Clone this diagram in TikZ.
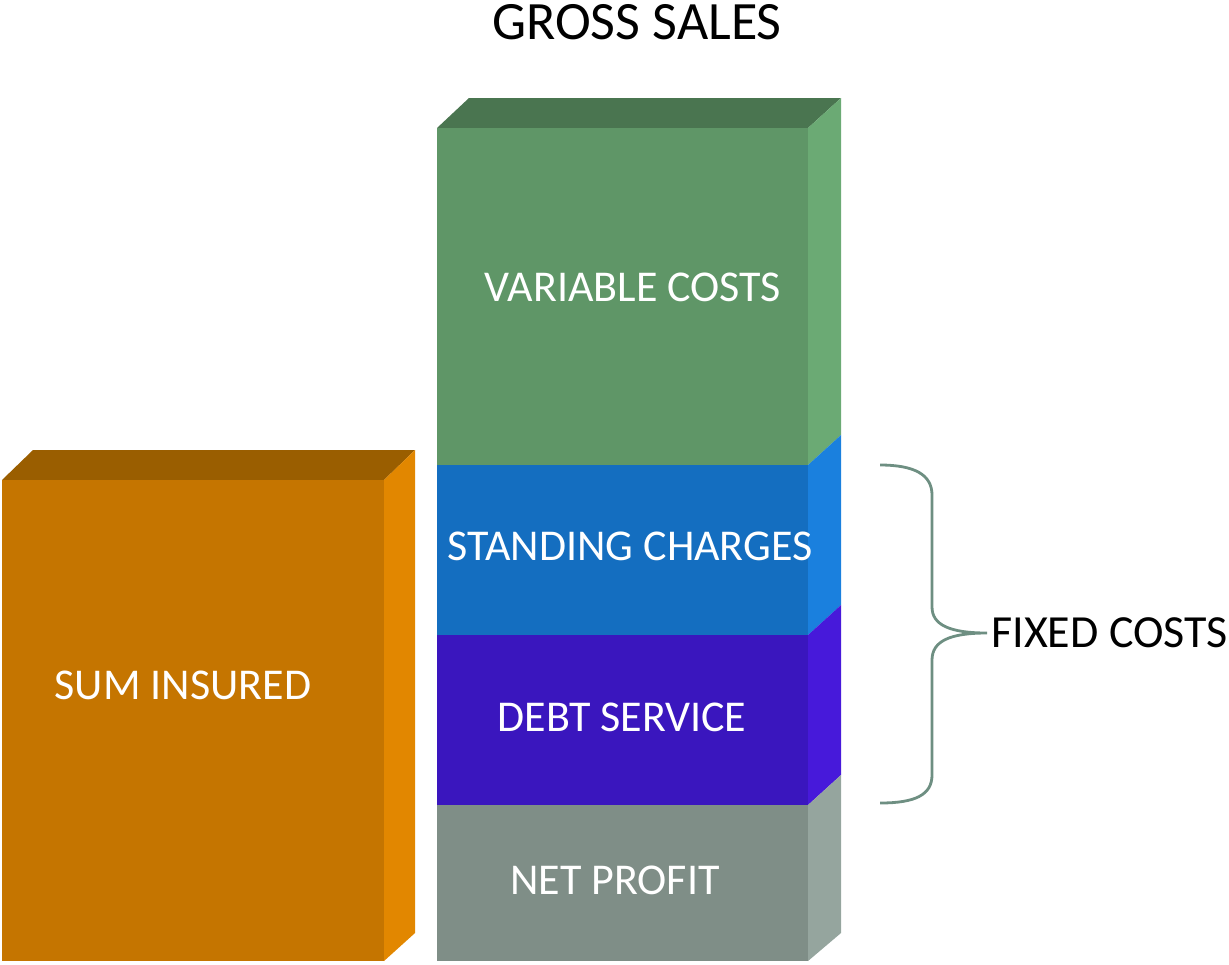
\documentclass[tikz,border=0pt]{standalone}
\usepackage{fontspec}
\setmainfont{Carlito}
\usetikzlibrary{positioning}

\definecolor{vartop}{HTML}{4A7550}
\definecolor{varfront}{HTML}{5F9667}
\definecolor{varside}{HTML}{6BAA74}
\definecolor{stdfront}{HTML}{146EC0}
\definecolor{stdside}{HTML}{1A80DE}
\definecolor{debtfront}{HTML}{3A16BE}
\definecolor{debtside}{HTML}{4719DA}
\definecolor{netfront}{HTML}{7F8E87}
\definecolor{netside}{HTML}{95A59E}
\definecolor{sumtop}{HTML}{9A5E00}
\definecolor{sumfront}{HTML}{C57500}
\definecolor{sumside}{HTML}{E28700}
\definecolor{bracecol}{HTML}{6E8F82}

\begin{document}
\begin{tikzpicture}[x=0.5pt, y=-0.5pt,
    inlabel/.style={text=white, inner sep=0pt, font=\fontsize{22}{26}\selectfont},
    outlabel/.style={text=black, inner sep=0pt, font=\fontsize{23}{27}\selectfont},
    brace/.style={draw=bracecol, line width=1.4pt}]
        \useasboundingbox (0,0) rectangle (1229,964);

        % sum insured
        \fill[sumtop] (2,480) -- (33,450) -- (415,450) -- (384,480) -- cycle;
        \fill[sumfront] (2,480) rectangle (384,961);
        \fill[sumside] (384,480) -- (415,450) -- (415,933) -- (384,961) -- cycle;

        % gross sales column
        \fill[vartop] (437,128) -- (469,98) -- (841,98) -- (808,128) -- cycle;
        \fill[varfront] (437,128) rectangle (808,465);
        \fill[varside] (808,128) -- (841,98) -- (841,435) -- (808,465) -- cycle;
        \fill[stdfront] (437,465) rectangle (808,635);
        \fill[stdside] (808,465) -- (841,435) -- (841,605) -- (808,635) -- cycle;
        \fill[debtfront] (437,635) rectangle (808,805);
        \fill[debtside] (808,635) -- (841,605) -- (841,775) -- (808,805) -- cycle;
        \fill[netfront] (437,805) rectangle (808,961);
        \fill[netside] (808,805) -- (841,775) -- (841,933) -- (808,961) -- cycle;

        \node[outlabel, font=\fontsize{27}{32}\selectfont] (G) at (637,22) {GROSS SALES};
        \node[inlabel] (V) at (633,287) {VARIABLE COSTS};
        \node[inlabel] (S) at (630,546) {STANDING CHARGES};
        \node[inlabel] (D) at (622,717) {DEBT SERVICE};
        \node[inlabel] (N) at (615,880) {NET PROFIT};
        \node[inlabel] (I) at (183,685) {SUM INSURED};

        % brace
        \coordinate (T) at (987,633);
        \node[outlabel, right=2pt of T] (F) {FIXED COSTS};
        \draw[brace] (880,465) .. controls (915,465) and (932,475) .. (932,495)
            -- (932,607) .. controls (932,625) and (950,633) .. (T)
            .. controls (950,633) and (932,641) .. (932,660)
            -- (932,775) .. controls (932,795) and (915,803) .. (880,803);
    \end{tikzpicture}
\end{document}
